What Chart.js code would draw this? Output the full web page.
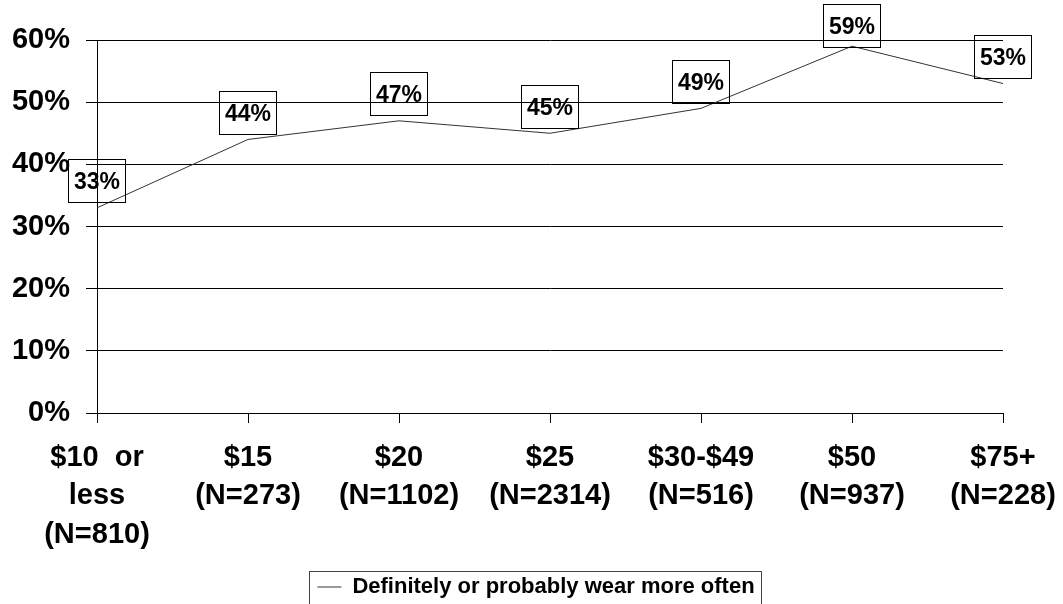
<!DOCTYPE html>
<html>
<head>
<meta charset="utf-8">
<script src="https://cdn.jsdelivr.net/npm/chart.js@4/dist/chart.umd.min.js"></script>
<style>
  html, body { margin: 0; padding: 0; background: #fff; }
  #wrap { width: 1063px; height: 604px; }
</style>
</head>
<body>
<div id="wrap"><canvas id="priceChart"></canvas></div>
<script>
const categories = [
    ['$10  or', 'less', '(N=810)'],
    ['$15', '(N=273)'],
    ['$20', '(N=1102)'],
    ['$25', '(N=2314)'],
    ['$30-$49', '(N=516)'],
    ['$50', '(N=937)'],
    ['$75+', '(N=228)']
];
const wearMoreOften = [33, 44, 47, 45, 49, 59, 53];
const seriesName = 'Definitely or probably wear more often';
const yMin = 0, yMax = 60, yStep = 10;

const FONT = "'Liberation Sans', Arial, sans-serif";

// boxed value labels above each point (kept inside the canvas at the top)
const boxedLabels = {
    id: 'boxedLabels',
    afterDatasetsDraw(chart) {
        const ctx = chart.ctx;
        const meta = chart.getDatasetMeta(0);
        ctx.save();
        ctx.font = 'bold 23px ' + FONT;
        ctx.textAlign = 'center';
        ctx.textBaseline = 'middle';
        meta.data.forEach((pt, i) => {
            const text = wearMoreOften[i] + '%';
            const w = ctx.measureText(text).width + 11;
            const h = 43;
            const top = Math.max(pt.y - 27 - h / 2, 4);
            const cy = top + h / 2;
            ctx.strokeStyle = '#000';
            ctx.lineWidth = 1;
            ctx.strokeRect(Math.round(pt.x - w / 2) + 0.5, Math.round(top) + 0.5, Math.round(w), h);
            ctx.fillStyle = '#000';
            ctx.fillText(text, pt.x, cy + 2);
        });
        ctx.restore();
    }
};

// frame round the legend
const legendFrame = {
    id: 'legendFrame',
    afterDraw(chart) {
        const hb = chart.legend.legendHitBoxes[0];
        if (!hb) return;
        const ctx = chart.ctx;
        ctx.save();
        ctx.strokeStyle = '#444';
        ctx.lineWidth = 1;
        ctx.strokeRect(Math.round(hb.left - 8) + 0.5, Math.round(hb.top + hb.height / 2 - 16) + 0.5, Math.round(hb.width + 15), 34);
        ctx.restore();
    }
};

document.addEventListener('DOMContentLoaded', function() {
    const ctx = document.getElementById('priceChart').getContext('2d');

    new Chart(ctx, {
        type: 'line',
        data: {
            labels: categories,
            datasets: [{
                label: seriesName,
                data: wearMoreOften,
                borderColor: '#333',
                borderWidth: 1,
                pointRadius: 0,
                fill: false,
                tension: 0
            }]
        },
        options: {
            responsive: true,
            maintainAspectRatio: false,
            animation: false,
            layout: { padding: { top: 40, left: 9, right: 0, bottom: -4 } },
            plugins: {
                legend: {
                    position: 'bottom',
                    labels: {
                        usePointStyle: true,
                        pointStyle: 'line',
                        pointStyleWidth: 24,
                        color: '#000',
                        font: { size: 22, weight: 'bold', family: FONT }
                    }
                },
                tooltip: { enabled: false }
            },
            scales: {
                x: {
                    offset: false,
                    grid: {
                        drawOnChartArea: false,
                        tickLength: 10,
                        color: '#000'
                    },
                    border: { color: '#000' },
                    ticks: {
                        maxRotation: 0,
                        autoSkip: false,
                        padding: 16,
                        color: '#000',
                        font: { size: 29, weight: 'bold', family: FONT, lineHeight: 1.32 }
                    },
                    afterFit: function(scale) {
                        scale.height = 153;
                        scale.paddingRight = 60;
                    }
                },
                y: {
                    min: yMin,
                    max: yMax,
                    grid: {
                        tickLength: 11,
                        color: '#000'
                    },
                    border: { color: '#000' },
                    ticks: {
                        stepSize: yStep,
                        padding: 16,
                        color: '#000',
                        font: { size: 29, weight: 'bold', family: FONT },
                        callback: v => v + '%'
                    },
                    afterFit: function(scale) {
                        scale.width = 88;
                    }
                }
            }
        },
        plugins: [boxedLabels, legendFrame]
    });
});
</script>
</body>
</html>
